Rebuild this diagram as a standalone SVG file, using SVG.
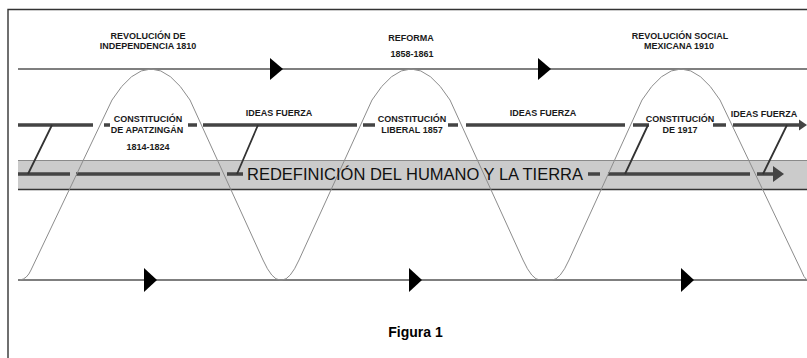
<svg xmlns="http://www.w3.org/2000/svg" width="807" height="358" viewBox="0 0 807 358">
<style>
.lbl{font-family:"Liberation Sans",Arial,sans-serif;font-size:9px;font-weight:bold;fill:#1a1a1a;text-anchor:middle}
.thin{stroke:#555;stroke-width:1.4;fill:none}
.thick{stroke:#444;stroke-width:3.6;fill:none}
.diag{stroke:#333;stroke-width:1.8;fill:none}
.tri{fill:#000}
.head{fill:#444}
</style>
<rect width="807" height="358" fill="#fff"/>
<g id="frame">
<path d="M8 358 V9.5 H807" fill="none" stroke="#333" stroke-width="1.4"/>
</g>
<g id="band">
<rect x="18" y="160" width="789" height="29.5" fill="#cbcbcb"/>
<line x1="18" y1="160.5" x2="807" y2="160.5" stroke="#8a8a8a" stroke-width="1"/>
<line x1="18" y1="189.5" x2="807" y2="189.5" stroke="#333" stroke-width="1.5"/>
</g>
<g id="connectors">
<line class="thin" x1="18" y1="69" x2="807" y2="69"/>
<line class="thin" x1="18" y1="280" x2="807" y2="280"/>
<path class="tri" d="M270 58 L283 69 L270 80 Z"/>
<path class="tri" d="M538 58 L551 69 L538 80 Z"/>
<path class="tri" d="M144 268 L157 280 L144 292 Z"/>
<path class="tri" d="M409 268 L422 280 L409 292 Z"/>
<path class="tri" d="M681 268 L694 280 L681 292 Z"/>
<path class="thick" d="M18 125 H93 M104 125 H110 M188 125 H197 M203 125 H357 M363 125 H375 M448 125 H458 M466 125 H625 M633 125 H649 M713 125 H726 M733 125 H800"/>
<path class="head" d="M799 119.5 L807 125 L799 130.5 Z"/>
<path class="thick" d="M18 174 H70 M76 174 H220 M227 174 H243 M588 174 H600 M608 174 H750 M757 174 H775"/>
<path class="head" d="M773 166 L784 174 L773 182 Z"/>
<path class="diag" d="M52 125 L28 174 M258 125 L237 174 M648 125 L625 174 M787 125 L763 174"/>
<path d="M20 280 Q27 279 31 270 L112 100 Q151 38 190 100 L263 260 Q272 280 280 280 L282 280 Q290 280 299 260 L372 100 Q411 38 450 100 L523 260 Q532 280 540 280 L552 280 Q560 280 569 260 L642 100 Q681 38 720 100 L801 270 Q804 278 807 280" fill="none" stroke="#8c8c8c" stroke-width="1"/>
</g>
<g id="band-label">
<text x="415" y="180" font-family="'Liberation Sans',Arial,sans-serif" font-size="17" fill="#111" text-anchor="middle" textLength="336" lengthAdjust="spacingAndGlyphs">REDEFINICIÓN DEL HUMANO Y LA TIERRA</text>
</g>
<g id="revolucion-independencia">
<text class="lbl" x="148" y="39">REVOLUCIÓN DE</text>
<text class="lbl" x="148" y="49">INDEPENDENCIA 1810</text>
</g>
<g id="reforma">
<text class="lbl" x="411" y="41">REFORMA</text>
<text class="lbl" x="412" y="57">1858-1861</text>
</g>
<g id="revolucion-social">
<text class="lbl" x="680" y="39">REVOLUCIÓN SOCIAL</text>
<text class="lbl" x="679" y="49">MEXICANA 1910</text>
</g>
<g id="constitucion-apatzingan">
<text class="lbl" x="148" y="121.5">CONSTITUCIÓN</text>
<text class="lbl" x="147" y="133">DE APATZINGÁN</text>
<text class="lbl" x="148" y="149.5">1814-1824</text>
</g>
<g id="constitucion-liberal">
<text class="lbl" x="412" y="121.5">CONSTITUCIÓN</text>
<text class="lbl" x="412" y="132.5">LIBERAL 1857</text>
</g>
<g id="constitucion-1917">
<text class="lbl" x="680" y="121.5">CONSTITUCIÓN</text>
<text class="lbl" x="680" y="132.5">DE 1917</text>
</g>
<g id="ideas-fuerza-1">
<text class="lbl" x="279" y="116">IDEAS FUERZA</text>
</g>
<g id="ideas-fuerza-2">
<text class="lbl" x="543" y="116">IDEAS FUERZA</text>
</g>
<g id="ideas-fuerza-3">
<text class="lbl" x="764" y="116.5">IDEAS FUERZA</text>
</g>
<g id="figura">
<text x="415.5" y="337" font-family="'Liberation Sans',Arial,sans-serif" font-size="14" font-weight="bold" fill="#000" text-anchor="middle">Figura 1</text>
</g>
</svg>
